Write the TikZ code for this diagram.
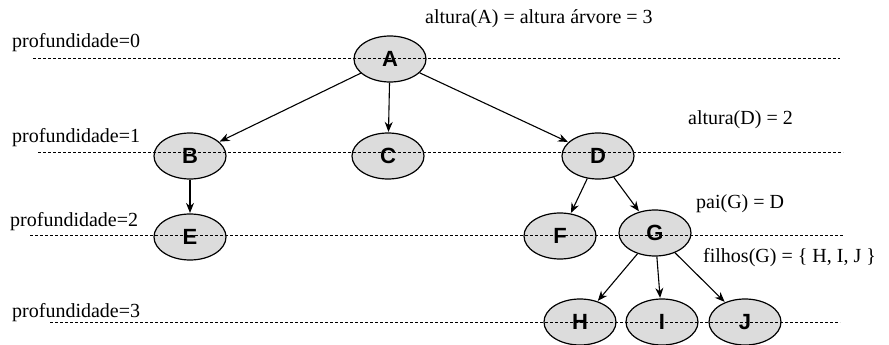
\documentclass[tikz,border=0pt]{standalone}
\usepackage{fontspec}
\setmainfont{Liberation Serif}
\newfontfamily\nodefont{Liberation Sans}
\usetikzlibrary{shapes.geometric,arrows.meta}
\definecolor{nodegray}{RGB}{220,220,220}

\begin{document}
\begin{tikzpicture}[x=1pt,y=-1pt,
  treenode/.style={ellipse, draw, line width=1.2pt, fill=nodegray,
    minimum width=72pt, minimum height=46pt, inner sep=0pt,
    font=\nodefont\bfseries\fontsize{22}{22}\selectfont},
  link/.style={line width=1.1pt, -{Stealth[length=10pt,width=8pt]}, shorten >=0.5pt},
  levelline/.style={dash pattern=on 3pt off 2pt, line width=0.8pt},
  lbl/.style={anchor=base west, inner sep=0pt, font=\fontsize{20}{20}\selectfont}]

\useasboundingbox (0,0) rectangle (889,345);

% tree nodes
\node[treenode] (A) at (390,59) {A};
\node[treenode] (B) at (190,156) {B};
\node[treenode] (C) at (388,156) {C};
\node[treenode] (D) at (598,156) {D};
\node[treenode] (E) at (190,237) {E};
\node[treenode] (F) at (560,236) {F};
\node[treenode] (G) at (655,233) {G};
\node[treenode] (H) at (580,322) {H};
\node[treenode] (I) at (662,322) {I};
\node[treenode] (J) at (745,322) {J};

% parent -> child links
\draw[link] (A) -- (B);
\draw[link] (A) -- (C);
\draw[link] (A) -- (D);
\draw[link] (B) -- (E);
\draw[link] (D) -- (F);
\draw[link] (D) -- (G);
\draw[link] (G) -- (H);
\draw[link] (G) -- (I);
\draw[link] (G) -- (J);

% depth guide lines
\coordinate (l0s) at (33,58);  \coordinate (l0e) at (840,58);
\coordinate (l1s) at (38,152); \coordinate (l1e) at (843,152);
\coordinate (l2s) at (30,235); \coordinate (l2e) at (843,235);
\coordinate (l3s) at (50,322); \coordinate (l3e) at (840,322);
\draw[levelline] (l0s) -- (l0e);
\draw[levelline] (l1s) -- (l1e);
\draw[levelline] (l2s) -- (l2e);
\draw[levelline] (l3s) -- (l3e);

% depth labels
\node[lbl] (p0) at (12,48) {profundidade=0};
\node[lbl] (p1) at (12,142) {profundidade=1};
\node[lbl] (p2) at (10,226) {profundidade=2};
\node[lbl] (p3) at (12,317) {profundidade=3};

% annotations
\node[lbl] (hA) at (425,24) {altura(A) = altura árvore = 3};
\node[lbl] (hD) at (688,124) {altura(D) = 2};
\node[lbl] (pG) at (696,208) {pai(G) = D};
\node[lbl] (fG) at (703,262) {filhos(G) = \{ H, I, J \}};
\end{tikzpicture}
\end{document}
